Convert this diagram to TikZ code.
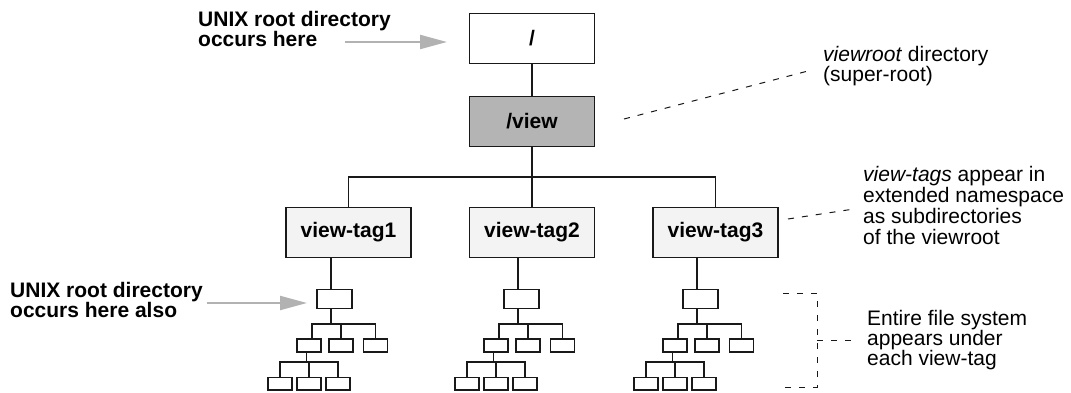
\documentclass[tikz,border=0pt]{standalone}
\usepackage{fontspec}
\setmainfont{Liberation Sans}
\usetikzlibrary{arrows.meta,calc}
\definecolor{arrowgray}{RGB}{178,178,178}
\definecolor{viewgray}{RGB}{180,180,180}
\definecolor{tagfill}{RGB}{243,243,243}
\definecolor{ink}{RGB}{25,25,25}
\begin{document}
\begin{tikzpicture}[x=1pt,y=-1pt,
  txt/.style={font=\fontsize{21}{20}\selectfont, align=left, inner sep=0pt, anchor=north west, text=black},
  btxt/.style={txt, font=\fontsize{21}{20}\selectfont\bfseries},
  bigbox/.style={draw=ink, line width=1.6pt, minimum width=125pt, minimum height=50pt, inner sep=0pt, font=\fontsize{21}{20}\selectfont\bfseries},
  tagbox/.style={bigbox, fill=tagfill},
  sbox/.style={draw=ink, line width=1.5pt, fill=white, inner sep=0pt, minimum width=24pt, minimum height=13pt},
  conn/.style={draw=ink, line width=1.4pt},
  dashline/.style={draw=ink, line width=1pt, dash pattern=on 6pt off 8pt},
  grayarrow/.style={draw=arrowgray, line width=2.2pt, -{Triangle[length=27pt,width=14pt]}, arrowgray}
]
\useasboundingbox (0,0) rectangle (1071,393);

% main boxes
\node[bigbox, fill=white] (root) at (532,38.5) {/};
\node[bigbox, fill=viewgray] (view) at (532,121.5) {/view};
\node[tagbox] (t1) at (348.5,232.5) {view-tag1};
\node[tagbox] (t2) at (532,232.5) {view-tag2};
\node[tagbox] (t3) at (715.5,232.5) {view-tag3};

\coordinate (bus) at (0,177);
\draw[conn] (root) -- (view);
\draw[conn] (view.south) -- (t2.north);
\draw[conn] (t1.north) -- (t1.north |- bus) -- (t3.north |- bus) -- (t3.north);

% small file-system trees
\foreach \k/\o in {1/0,2/187,3/366} {
  \node[sbox, minimum width=35pt, minimum height=19pt] (r\k) at (334.5+\o,299) {};
  \node[sbox] (a\k) at (309+\o,345.5) {};
  \node[sbox] (b\k) at (341+\o,345.5) {};
  \node[sbox] (c\k) at (375.5+\o,345.5) {};
  \node[sbox, minimum height=12.5pt] (d\k) at (280+\o,383.75) {};
  \node[sbox, minimum height=12.5pt] (e\k) at (309+\o,383.75) {};
  \node[sbox, minimum height=12.5pt] (f\k) at (338+\o,383.75) {};
  \coordinate (rv\k) at (331+\o,0);
  \coordinate (av\k) at (312+\o,0);
  \coordinate (dv\k) at (306.5+\o,0);
  \coordinate (cb\k) at (0,324);
  \coordinate (gb\k) at (0,362);
  \draw[conn] (t\k.south -| rv\k) -- (r\k.north -| rv\k);
  \draw[conn] (r\k.south -| rv\k) -- (cb\k -| rv\k);
  \draw[conn] (av\k |- a\k.north) -- (av\k |- cb\k) -- (c\k.north |- cb\k) -- (c\k.north);
  \draw[conn] (b\k.north) -- (b\k.north |- cb\k);
  \draw[conn] (a\k.south -| dv\k) -- (dv\k |- gb\k);
  \draw[conn] (d\k.north) -- (d\k.north |- gb\k) -- (f\k.north |- gb\k) -- (f\k.north);
  \draw[conn] (e\k.north) -- (e\k.north |- gb\k);
}

% left labels and arrows
\node[btxt] (lab1) at (198,11) {UNIX root directory\\occurs here};
\node[btxt] (lab2) at (10,282) {UNIX root directory\\occurs here also};
\coordinate (ar1s) at (345,42);
\coordinate (ar1e) at (447,42);
\coordinate (ar2s) at (207,303);
\coordinate (ar2e) at (307,303);
\draw[grayarrow] (ar1s) -- (ar1e);
\draw[grayarrow] (ar2s) -- (ar2e);

% right annotations
\node[txt] (note1) at (823,46) {\textit{viewroot} directory\\(super-root)};
\node[txt, font=\fontsize{21}{21}\selectfont] (note2) at (863,166) {\textit{view-tags} appear in\\extended namespace\\as subdirectories\\of the viewroot};
\node[txt] (note3) at (867,310) {Entire file system\\appears under\\each view-tag};

\coordinate (d1s) at (624,119);
\coordinate (d1e) at (808,71);
\draw[dashline] (d1s) -- (d1e);
\coordinate (d2s) at (788,219);
\coordinate (d2e) at (854,209);
\draw[dashline] (d2s) -- (d2e);

\coordinate (bt) at (783,293);
\coordinate (bc) at (817,293);
\coordinate (bd) at (817,387);
\coordinate (bb) at (783,387);
\coordinate (bm) at (817,340);
\coordinate (bme) at (852,340);
\draw[dashline] (bt) -- (bc) -- (bd) -- (bb);
\draw[dashline] (bm) -- (bme);
\end{tikzpicture}
\end{document}
